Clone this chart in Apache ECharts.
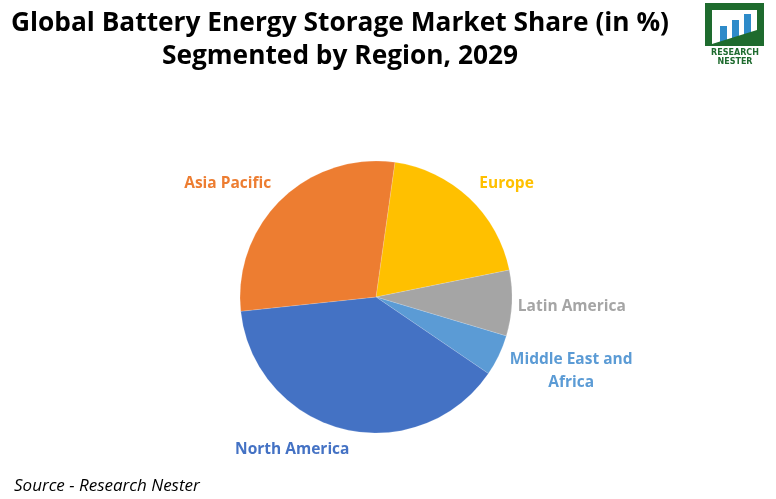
<!DOCTYPE html>
<html><head><meta charset="utf-8">
<script src="https://cdn.jsdelivr.net/npm/echarts@6/dist/echarts.min.js"></script>
<style>html,body{margin:0;padding:0;background:#fff}#c{width:776px;height:499px}</style>
</head><body><div id="c"></div>
<script>
const categories = ['Europe', 'Latin America', 'Middle East and\nAfrica', 'North America', 'Asia Pacific'];
const shares = [19.6, 7.8, 4.9, 38.8, 28.9];
const colors = ['#FFC000', '#A5A5A5', '#5B9BD5', '#4472C4', '#ED7D31'];
const labelShift = [[-10, 2], [-21, 2], [-20, 6], [17, -1], [10, 0]];

const chart = echarts.init(document.getElementById('c'), null, {renderer: 'canvas'});
const data = categories.map((c, i) => ({
  name: c, value: shares[i],
  itemStyle: {color: colors[i]},
  label: {color: colors[i]}
}));
chart.setOption({
  animation: false,
  title: {
    text: 'Global Battery Energy Storage Market Share (in %)\nSegmented by Region, 2029',
    left: 335, top: 2, textAlign: 'center',
    textStyle: {fontFamily: 'Open Sans', fontWeight: 'bold', fontSize: 26.3, lineHeight: 33, color: '#000'}
  },
  graphic: [
    {type: 'polygon', shape: {points: [[705,3],[764,3],[764,46],[757,46],[757,10],[712,10],[712,46],[705,46]]}, style: {fill: '#1E6B2E'}},
    {type: 'rect', shape: {x: 720, y: 26, width: 7, height: 20}, style: {fill: '#2E8BC9'}},
    {type: 'rect', shape: {x: 732, y: 20, width: 7, height: 26}, style: {fill: '#2E8BC9'}},
    {type: 'rect', shape: {x: 744, y: 14, width: 7, height: 32}, style: {fill: '#2E8BC9'}},
    {type: 'polygon', shape: {points: [[712,46],[712,44],[757,30],[757,46]]}, style: {fill: '#1E6B2E'}},
    {type: 'text', style: {x: 735, y: 49, text: 'RESEARCH', fill: '#1E6B2E', font: 'bold 8px DejaVu Sans', textAlign: 'center'}},
    {type: 'text', style: {x: 735, y: 58, text: 'NESTER', fill: '#1E6B2E', font: 'bold 8px DejaVu Sans', textAlign: 'center'}},
    {type: 'text', style: {x: 14, y: 478, text: 'Source - Research Nester', fill: '#000', font: 'italic 17px "Open Sans"'}}
  ],
  series: [{
    type: 'pie',
    center: [376, 297],
    radius: 136,
    startAngle: 82,
    clockwise: true,
    data: data,
    label: {
      show: true, position: 'outside', fontFamily: 'Open Sans', fontWeight: 'bold', fontSize: 15.5, lineHeight: 23,
      formatter: p => p.name.indexOf('\n') >= 0
        ? p.name.split('\n').map(s => '{c|' + s + '}').join('\n')
        : p.name,
      rich: {c: {fontFamily: 'Open Sans', fontWeight: 'bold', fontSize: 15.5, lineHeight: 23, width: 135, align: 'center'}}
    },
    labelLine: {show: false, length: 22, length2: 0},
    labelLayout: p => ({dx: labelShift[p.dataIndex][0], dy: labelShift[p.dataIndex][1]}),
    itemStyle: {borderColor: 'rgba(255,255,255,0.3)', borderWidth: 0.5}
  }]
});
</script></body></html>
